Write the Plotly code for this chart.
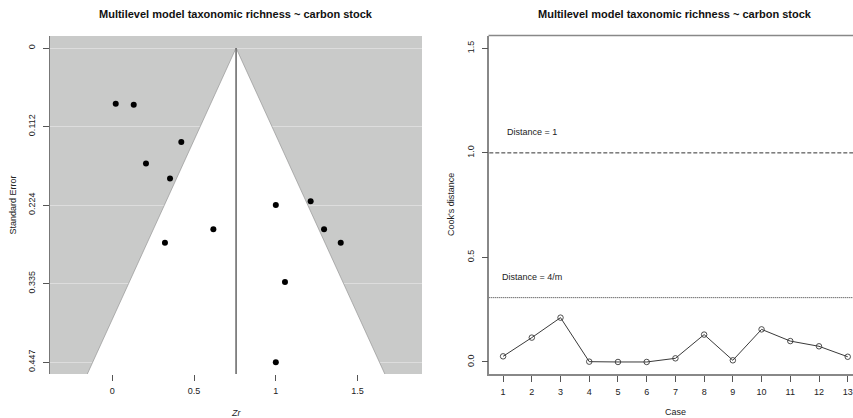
import plotly.graph_objects as go

# Funnel plot data: Fisher's Zr effect sizes and their standard errors
zr = [0.021, 0.131, 0.422, 0.206, 0.353, 1.000, 1.213, 0.618, 0.322, 1.295, 1.397, 1.056, 1.000]
se = [0.0793, 0.0808, 0.1337, 0.1644, 0.1857, 0.2236, 0.2182, 0.2582, 0.2774, 0.2582, 0.2774, 0.3333, 0.4472]
pooled_zr = 0.757

# Cook's distance per case
cases = list(range(1, 14))
cooks = [0.027, 0.1165, 0.212, 0.0015, 0.0, 0.0, 0.0175, 0.131, 0.008, 0.156, 0.100, 0.075, 0.025]
cut_one = 1.0
cut_4m = 4 / len(cases)

title_text = "Multilevel model taxonomic richness ~ carbon stock"
se_ticks = [0, 0.1118, 0.2236, 0.3354, 0.4472]
se_ticklabels = ["0", "0.112", "0.224", "0.335", "0.447"]
zr_ticks = [0, 0.5, 1, 1.5]
zr_ticklabels = ["0", "0.5", "1", "1.5"]
cook_ticks = [0.0, 0.5, 1.0, 1.5]
cook_ticklabels = ["0.0", "0.5", "1.0", "1.5"]

FONT = "Liberation Sans, Arial, sans-serif"
W, H = 853, 418

# plot-area pixel boxes
L_X0, L_X1 = 50, 422
R_X0, R_X1 = 489.3, 853
Y_TOP, Y_BOT = 36, 374

se_lo, se_hi = -0.0171, 0.4641
zr_lo, zr_hi = -0.381, 1.894
case_lo = 0.52
case_hi = case_lo + (R_X1 - R_X0) / 28.72

fig = go.Figure()

# white 95% pseudo-confidence region of the funnel
z = 1.96
fig.add_trace(go.Scatter(
    x=[pooled_zr - z * se_hi, pooled_zr, pooled_zr + z * se_hi],
    y=[se_hi, 0, se_hi],
    mode="lines", fill="toself", fillcolor="white",
    line=dict(color="#8a8a8a", width=0.6),
    xaxis="x", yaxis="y", hoverinfo="skip", showlegend=False,
))
# pooled estimate reference line
fig.add_trace(go.Scatter(
    x=[pooled_zr, pooled_zr], y=[0, se_hi],
    mode="lines", line=dict(color="#6e6e6e", width=1.6),
    xaxis="x", yaxis="y", hoverinfo="skip", showlegend=False,
))
# studies
fig.add_trace(go.Scatter(
    x=zr, y=se, mode="markers",
    marker=dict(color="black", size=6),
    xaxis="x", yaxis="y", showlegend=False,
))

# Cook's distance line with open circles
fig.add_trace(go.Scatter(
    x=cases, y=cooks, mode="lines+markers",
    line=dict(color="#3a3a3a", width=1),
    marker=dict(symbol="circle-open", size=5.5, color="#3a3a3a", line=dict(width=0.9)),
    xaxis="x2", yaxis="y2", showlegend=False,
))

ydom = [1 - Y_BOT / H, 1 - Y_TOP / H]

tick_font = dict(family=FONT, size=9, color="#222")
fig.update_layout(
    width=W, height=H,
    margin=dict(l=0, r=0, t=0, b=0),
    paper_bgcolor="white", plot_bgcolor="white",
    xaxis=dict(
        domain=[L_X0 / W, L_X1 / W], range=[zr_lo, zr_hi],
        tickvals=zr_ticks, ticktext=zr_ticklabels,
        ticks="outside", ticklen=6, tickcolor="#555", tickwidth=1,
        showgrid=False, zeroline=False, showline=False,
        tickfont=tick_font, ticklabelstandoff=2,
        anchor="y",
    ),
    yaxis=dict(
        domain=ydom, range=[se_hi, se_lo],
        tickvals=se_ticks, ticktext=se_ticklabels, tickangle=-90,
        ticks="outside", ticklen=6, tickcolor="#555", tickwidth=1,
        showgrid=True, gridcolor="#dddddd", gridwidth=1,
        zeroline=False, showline=True, linecolor="#777", linewidth=1.2,
        tickfont=tick_font, ticklabelstandoff=4,
        anchor="x",
    ),
    xaxis2=dict(
        domain=[R_X0 / W, 1.0], range=[case_lo, case_hi],
        tickvals=cases, ticks="outside", ticklen=6, tickcolor="#555", tickwidth=1,
        showgrid=False, zeroline=False,
        showline=True, linecolor="#888", linewidth=1.5,
        tickfont=tick_font, ticklabelstandoff=2,
        anchor="y2",
    ),
    yaxis2=dict(
        domain=ydom, range=[-0.0575, 1.559],
        tickvals=cook_ticks, ticktext=cook_ticklabels, tickangle=-90,
        ticks="outside", ticklen=6, tickcolor="#555", tickwidth=1,
        showgrid=False, zeroline=False,
        showline=True, linecolor="#888", linewidth=1.5,
        tickfont=tick_font, ticklabelstandoff=4,
        anchor="x2",
    ),
)

# grey background of the funnel panel (beneath gridlines)
fig.add_shape(type="rect", xref="x domain", yref="y domain", x0=0, x1=1, y0=0, y1=1,
              fillcolor="#c9cac9", line=dict(width=0), layer="below")

# top border of the Cook's distance panel
fig.add_shape(type="line", xref="paper", yref="paper", x0=(R_X0 - 0.75) / W, x1=1,
              y0=1 - (Y_TOP - 0.5) / H, y1=1 - (Y_TOP - 0.5) / H,
              line=dict(color="#888", width=1.5))

# threshold lines
fig.add_shape(type="line", xref="x2 domain", yref="y2", x0=0, x1=1, y0=cut_one, y1=cut_one,
              line=dict(color="#333", width=1, dash="4px,2px"))
fig.add_shape(type="line", xref="x2 domain", yref="y2", x0=0, x1=1, y0=cut_4m, y1=cut_4m,
              line=dict(color="#333", width=1, dash="1px,1px"))

lab_font = dict(family=FONT, size=9, color="#222")
fig.add_annotation(x=2, y=cut_one + 0.1, xref="x2", yref="y2", text="Distance = 1",
                   showarrow=False, font=lab_font, xanchor="center", yanchor="middle")
fig.add_annotation(x=2, y=cut_4m + 0.1, xref="x2", yref="y2", text="Distance = 4/m",
                   showarrow=False, font=lab_font, xanchor="center", yanchor="middle")

# titles
title_font = dict(family=FONT, size=11, color="#111")
for cx in [(L_X0 + L_X1) / 2, (R_X0 + 861) / 2]:
    fig.add_annotation(x=cx / W, y=1 - 14 / H, xref="paper", yref="paper",
                       text="<b>" + title_text + "</b>", showarrow=False, font=title_font,
                       xanchor="center", yanchor="middle")

# axis titles
axis_titles = [
    (236, 413, "<i>Zr</i>", 0),
    (675, 412, "Case", 0),
    (12.5, 205, "Standard Error", -90),
    (451, 205, "Cook's distance", -90),
]
for px, py, txt, ang in axis_titles:
    fig.add_annotation(x=px / W, y=1 - py / H, xref="paper", yref="paper", text=txt,
                       textangle=ang, showarrow=False, font=lab_font,
                       xanchor="center", yanchor="middle")

fig.write_html("out.html")
